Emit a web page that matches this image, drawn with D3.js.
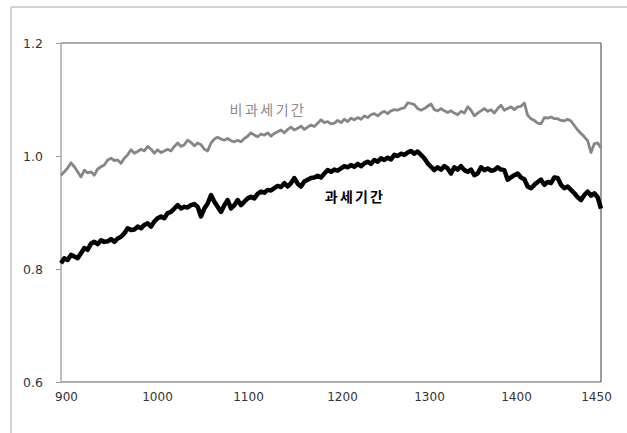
<!DOCTYPE html>
<html>
<head>
<meta charset="utf-8">
<script src="https://cdn.jsdelivr.net/npm/d3@7"></script>
<style>
  html, body { margin: 0; padding: 0; background: #ffffff; }
  svg { display: block; }
</style>
</head>
<body>
<svg id="chart" width="627" height="433"></svg>
<script>
// ---- data ----
const seriesNames = ["비과세기간", "과세기간"];

// non-taxed period (grey line), evenly spaced samples across the plotted range
const nonTaxed = [
  0.966,0.972,0.979,0.988,0.981,0.972,0.963,0.975,0.970,0.972,0.966,0.977,0.981,0.984,0.993,0.996,0.992,0.993,0.987,0.996,1.002,1.011,1.005,1.008,1.012,1.009,
  1.017,1.012,1.005,1.011,1.006,1.009,1.012,1.009,1.017,1.023,1.017,1.020,1.028,1.024,1.018,1.023,1.020,1.012,1.009,1.023,1.030,1.033,1.030,1.028,1.031,1.027,1.025,
  1.028,1.025,1.031,1.035,1.041,1.037,1.034,1.039,1.037,1.041,1.035,1.040,1.043,1.046,1.041,1.047,1.051,1.046,1.049,1.053,1.047,1.051,1.055,1.052,1.058,1.064,1.059,
  1.061,1.057,1.058,1.063,1.059,1.065,1.061,1.067,1.064,1.068,1.065,1.071,1.068,1.073,1.075,1.071,1.076,1.079,1.075,1.080,1.082,1.081,1.084,1.085,1.094,1.093,1.091,
  1.084,1.081,1.084,1.088,1.092,1.082,1.080,1.084,1.080,1.077,1.080,1.076,1.073,1.079,1.076,1.087,1.081,1.071,1.076,1.080,1.084,1.079,1.082,1.076,1.084,1.090,1.081,
  1.084,1.087,1.082,1.087,1.088,1.094,1.072,1.066,1.063,1.058,1.057,1.068,1.067,1.069,1.066,1.066,1.063,1.062,1.065,1.062,1.054,1.046,1.040,1.034,1.027,1.006,1.022,1.023,1.014
];

// taxed period (black line)
const taxed = [
  0.810,0.819,0.816,0.825,0.822,0.819,0.828,0.837,0.834,0.845,0.848,0.844,0.851,0.848,0.849,0.853,0.848,0.854,0.857,0.863,0.872,0.869,0.870,0.875,0.872,0.878,
  0.881,0.875,0.884,0.890,0.893,0.890,0.899,0.901,0.907,0.913,0.907,0.910,0.909,0.913,0.915,0.910,0.893,0.907,0.916,0.931,0.919,0.910,0.901,0.913,0.922,0.907,0.913,
  0.922,0.913,0.919,0.925,0.928,0.925,0.933,0.937,0.935,0.940,0.939,0.943,0.947,0.945,0.952,0.946,0.952,0.961,0.951,0.946,0.955,0.958,0.961,0.962,0.965,0.962,0.969,
  0.975,0.972,0.976,0.974,0.978,0.982,0.980,0.984,0.981,0.986,0.982,0.987,0.990,0.986,0.993,0.990,0.996,0.993,0.997,0.994,1.002,1.000,1.004,1.002,1.006,1.009,1.004,
  1.008,1.002,0.996,0.987,0.981,0.975,0.980,0.976,0.982,0.978,0.969,0.980,0.976,0.982,0.975,0.972,0.976,0.966,0.969,0.980,0.975,0.978,0.974,0.975,0.980,0.976,0.975,
  0.958,0.962,0.966,0.969,0.962,0.959,0.946,0.943,0.949,0.954,0.958,0.949,0.954,0.952,0.962,0.961,0.949,0.943,0.946,0.940,0.934,0.927,0.922,0.931,0.937,0.930,0.934,0.927,0.907
];

// x-axis labels and the sample index each label sits at
const xTickLabels = ["900", "1000", "1100", "1200", "1300", "1400", "1450"];
const xTickIndex  = [1.5, 28.8, 56.1, 84.3, 110.4, 136.5, 160.5];

// y-axis ticks
const yTicks = [0.6, 0.8, 1.0, 1.2];
const yDomain = [0.6, 1.2];

// ---- layout ----
const svg = d3.select("#chart");
const plot = { left: 61, right: 601, top: 43, bottom: 382 };

const n = nonTaxed.length;
const x = d3.scaleLinear().domain([0, n - 1]).range([plot.left, plot.right]);
const y = d3.scaleLinear().domain(yDomain).range([plot.bottom, plot.top]);

// outer chart frame (only top and left edges visible)
svg.append("line").attr("x1", 11).attr("y1", 7).attr("x2", 627).attr("y2", 7)
  .attr("stroke", "#c4c4c4").attr("stroke-width", 1.5);
svg.append("line").attr("x1", 11).attr("y1", 7).attr("x2", 11).attr("y2", 433)
  .attr("stroke", "#c4c4c4").attr("stroke-width", 1.5);

// y axis
const yAxis = svg.append("g")
  .attr("transform", `translate(${plot.left},0)`)
  .call(d3.axisLeft(y).tickValues(yTicks).tickFormat(d3.format(".1f")).tickSize(5).tickPadding(13));
yAxis.select(".domain").remove();
yAxis.selectAll(".tick line").attr("stroke", "#9a9a9a");
yAxis.selectAll("text").attr("font-family", "'DejaVu Sans', sans-serif").attr("font-size", 12.5).attr("fill", "#333");

// x axis
const xAxis = svg.append("g")
  .attr("transform", `translate(0,${plot.bottom})`)
  .call(d3.axisBottom(x).tickValues(xTickIndex).tickFormat((d, i) => xTickLabels[i]).tickSize(0).tickPadding(10));
xAxis.select(".domain").remove();
xAxis.selectAll("text").attr("font-family", "'DejaVu Sans', sans-serif").attr("font-size", 12).attr("fill", "#333");

// plot frame
svg.append("line").attr("x1", plot.left).attr("y1", plot.top).attr("x2", plot.right).attr("y2", plot.top)
  .attr("stroke", "#5a5a5a").attr("stroke-width", 1.2);
svg.append("line").attr("x1", plot.right).attr("y1", plot.top).attr("x2", plot.right).attr("y2", plot.bottom)
  .attr("stroke", "#5a5a5a").attr("stroke-width", 1.2);
svg.append("line").attr("x1", plot.left).attr("y1", plot.bottom).attr("x2", plot.right).attr("y2", plot.bottom)
  .attr("stroke", "#5a5a5a").attr("stroke-width", 1.2);
svg.append("line").attr("x1", plot.left).attr("y1", plot.top).attr("x2", plot.left).attr("y2", plot.bottom)
  .attr("stroke", "#a8a8a8").attr("stroke-width", 1.5);

// lines
const line = d3.line().x((d, i) => x(i)).y(d => y(d));

svg.append("path").datum(nonTaxed)
  .attr("d", line).attr("fill", "none")
  .attr("stroke", "#868686").attr("stroke-width", 2.8)
  .attr("stroke-linejoin", "round");

svg.append("path").datum(taxed)
  .attr("d", line).attr("fill", "none")
  .attr("stroke", "#000000").attr("stroke-width", 4.5)
  .attr("stroke-linejoin", "round");

// series labels
svg.append("text")
  .attr("x", 268).attr("y", 108.5)
  .attr("text-anchor", "middle").attr("dominant-baseline", "central")
  .attr("font-family", "'Noto Sans CJK KR', sans-serif").attr("font-size", 14)
  .attr("letter-spacing", 2.5)
  .attr("fill", "#8a8a8a")
  .text(seriesNames[0]);

svg.append("text")
  .attr("x", 355).attr("y", 195.5)
  .attr("text-anchor", "middle").attr("dominant-baseline", "central")
  .attr("font-family", "'Noto Sans CJK KR', sans-serif").attr("font-size", 14)
  .attr("font-weight", "bold").attr("letter-spacing", 2.2)
  .attr("fill", "#000")
  .text(seriesNames[1]);
</script>
</body>
</html>
